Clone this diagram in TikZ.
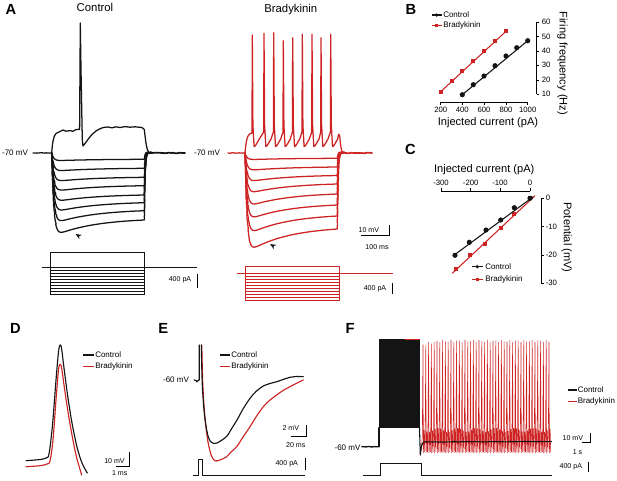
\documentclass[tikz,border=0pt]{standalone}
\usepackage{fontspec}
\setmainfont{Liberation Sans}
\usetikzlibrary{decorations.pathmorphing}
\definecolor{bkred}{RGB}{205,35,35}
\definecolor{trblack}{RGB}{20,20,20}
\begin{document}
\begin{tikzpicture}[x=0.75pt,y=-0.75pt,
 panel/.style={font=\bfseries\fontsize{11}{12}\selectfont,inner sep=0},
 ttl/.style={font=\fontsize{8.5}{10}\selectfont,inner sep=0},
 axl/.style={font=\fontsize{8.3}{10}\selectfont,inner sep=0},
 lbl/.style={font=\fontsize{6}{7}\selectfont,inner sep=0},
 tkl/.style={font=\fontsize{5.8}{7}\selectfont,inner sep=0},
 sbl/.style={font=\fontsize{5.3}{6}\selectfont,inner sep=0},
 ctr/.style={trblack,line width=0.95pt,line join=round,line cap=round},
 brd/.style={bkred,line width=0.95pt,line join=round,line cap=round},
 noisy/.style={decorate,decoration={random steps,segment length=1.4pt,amplitude=0.22pt}},
 cur/.style={line width=0.6pt},
 sbar/.style={line width=0.75pt},
 axs/.style={line width=0.7pt},
 leg/.style={line width=0.8pt},
]
\useasboundingbox (0,0) rectangle (617,480);
\pgfmathsetseed{7}
% ---------- panel letters and titles
\node[panel] (pA) at (10.8,9) {A};
\node[panel] (pB) at (410.8,9.2) {B};
\node[panel] (pC) at (410.5,149.5) {C};
\node[panel] (pD) at (15.3,328.3) {D};
\node[panel] (pE) at (163.3,328.7) {E};
\node[panel] (pF) at (350,328.3) {F};
\node[ttl] (tctl) at (95,7) {Control};
\node[ttl] (tbrd) at (290.8,9.2) {Bradykinin};

% ---------- Panel A, control
\node[lbl] (ctlmv) at (15,153) {-70 mV};
\draw[ctr,noisy] (33,153) -- (51.7,153);
\draw[ctr,line width=1.3pt,noisy] (147,153) -- (185,153);
\foreach \f/\p in {159.3/160.5,168.3/170.5,177.3/180.5,185.7/190,195/200,202.7/210,210.7/221,220/233}{
  \pgfmathsetmacro\A{(\p-153)*1.05}
  \pgfmathsetmacro\B{(\A-(\f-153))/0.901}
  \pgfmathsetmacro\E{153+\A-\B*(1-exp(-92.6/40))}
  \draw[ctr,noisy] plot[domain=0:92.6,samples=90] ({51.7+\x},{153+\A*(1-exp(-min(\x,20)/2))-\B*(1-exp(-\x/40))})
     -- plot[domain=0:7,samples=25] ({144.3+\x},{153+(\E-153)*exp(-\x/0.9)-2.5*(1-exp(-\x/0.9))*exp(-\x/3)});
}
\draw[ctr] (51.7,153) .. controls (52.5,142) and (53.5,136) .. (56,133.5) -- (60,131.5) -- (63,130) -- (66,131.2) -- (70,130.6) -- (73,131.3) -- (76,129.5) -- (79.6,129.3)
  -- (80.3,23) -- (81,70) -- (82.3,140) -- (83,146) .. controls (86,143) and (90,135) .. (96,131) .. controls (100,128.5) and (103,127) .. (108,127)
  -- (112,127.8) -- (116,126.8) -- (120,127.5) -- (125,126.6) -- (130,127.2) -- (135,126.8) -- (142,127.5) -- (144.3,129.5) .. controls (145.5,140) and (146.5,150) .. (149,153);
\fill[trblack] (75.5,234) -- (79.35,239.2) -- (79.1,236.2) -- (81.9,234.9) -- cycle;
% current steps control
\draw[trblack,cur] (41.7,267.3) -- (50,267.3) (144.3,267.3) -- (196.7,267.3);
\foreach \lv in {252.7,270,273.04,276.08,279.12,282.16,285.2,288.24,291.28,294.3}
  \draw[trblack,cur] (50,267.3) rectangle (144.3,\lv);
\node[sbl] (ctlpa) at (180,280) {400 pA};
\draw[sbar] (197.3,274.3) -- (197.3,287.7);

% ---------- Panel A, bradykinin
\node[lbl] (brdmv) at (207,153) {-70 mV};
\draw[brd,noisy] (228,153) -- (245,153);
\draw[brd,line width=1.3pt,noisy] (340,153) -- (372,153);
\foreach \f/\p in {158.3/159.5,167/170,175.5/181,184/192.5,194/205,205/218,216/232,229/249}{
  \pgfmathsetmacro\A{(\p-153)*1.05}
  \pgfmathsetmacro\B{(\A-(\f-153))/0.901}
  \pgfmathsetmacro\E{153+\A-\B*(1-exp(-92.3/40))}
  \draw[brd,noisy] plot[domain=0:92.3,samples=90] ({245+\x},{153+\A*(1-exp(-min(\x,20)/2))-\B*(1-exp(-\x/40))})
     -- plot[domain=0:7,samples=25] ({337.3+\x},{153+(\E-153)*exp(-\x/0.9)-2.5*(1-exp(-\x/0.9))*exp(-\x/3)});
}
\draw[brd] (245,152.7) .. controls (246,142) and (247,136) .. (249.5,134) -- (251.6,133.5)
  \foreach \sx/\sp in {252.3/35,264/33.3,273.7/32.7,283.3/40.7,292.7/37.7,302.3/34.3,312/34.3,321/37.7,330.7/34.3}{
    -- ({\sx-0.3},132) -- (\sx,\sp) -- ({\sx+0.6},125) -- ({\sx+1.8},146.5) .. controls ({\sx+3},147) and ({\sx+5},142) .. ({\sx+7},139)
  }
  .. controls (338.5,133) and (339.2,133) .. (339.8,137) .. controls (340.5,146) and (341.5,152) .. (343,153);
\fill[trblack] (270,244) -- (273.85,249.2) -- (273.6,246.2) -- (276.4,244.9) -- cycle;
% scale bars
\node[sbl] (brdmvs) at (368.8,230) {10 mV};
\draw[sbar] (360.7,235.5) -- (389.3,235.5) -- (389.3,225);
\node[sbl] (brdms) at (377,246.7) {100 ms};
% current steps bradykinin
\draw[bkred,cur] (236.7,273.3) -- (245,273.3) (339.3,273.3) -- (393.3,273.3);
\foreach \lv in {266,276.7,279.6,282.5,285.4,288.3,291.2,294.1,297,300}
  \draw[bkred,cur] (245,273.3) rectangle (339.3,\lv);
\node[sbl] (brdpa) at (375,288.3) {400 pA};
\draw[sbar] (392.7,283.3) -- (392.7,294.3);

% ---------- Panel B
\draw[axs] (440.7,102) -- (527.7,102);
\foreach \t/\xx in {200/440.7,400/462.3,600/484,800/506,1000/527.7}{
  \draw[axs] (\xx,102) -- (\xx,104.5);
  \node[tkl] (bx\t) at (\xx,110) {\t};
}
\draw[axs] (536.7,22.3) -- (536.7,94.3);
\foreach \t/\yy in {60/22.3,50/36.7,40/51,30/65.3,20/80,10/94.3}{
  \draw[axs] (536.7,\yy) -- (539.3,\yy);
  \node[tkl,anchor=west] (by\t) at (541.5,\yy) {\t};
}
\node[axl] (bxl) at (488,122.7) {Injected current (pA)};
\node[axl,rotate=-90] (byl) at (562.5,63.3) {Firing frequency (Hz)};
\draw[bkred,leg] (440.7,91.7) -- (506,31.3);
\foreach \xx/\yy in {440.7/91.7,451.7/81,462.3/71.3,473.3/61.3,484/50.7,495/41.3,506/31.3}
  \fill[bkred] (\xx-2.1,\yy-2.1) rectangle (\xx+2.1,\yy+2.1);
\draw[trblack,leg] (462.3,94.7) -- (527.7,40.7);
\foreach \xx/\yy in {462.3/94.7,473.3/84.7,484/76,495/65.7,506/56,516.7/47.7,527.7/40.7}
  \fill[trblack] (\xx,\yy) circle (2.6);
\draw[trblack,leg] (431.7,15) -- (441.7,15);
\fill[trblack] (436.7,15) circle (1.8);
\node[lbl,anchor=west] (blc) at (443,15) {Control};
\draw[bkred,leg] (431.7,25.3) -- (441.7,25.3);
\fill[bkred] (435,23.6) rectangle (438.4,27);
\node[lbl,anchor=west] (blb) at (443,25.3) {Bradykinin};

% ---------- Panel C
\node[axl] (cxl) at (484.2,169.3) {Injected current (pA)};
\draw[axs] (441,191) -- (530,191);
\foreach \xx in {441,470.7,500,530}{
  \draw[axs] (\xx,191) -- (\xx,187.8);
}
\node[tkl] (cx1) at (441,182.7) {-300};
\node[tkl] (cx2) at (470.7,182.7) {-200};
\node[tkl] (cx3) at (500,182.7) {-100};
\node[tkl] (cx4) at (530,182.7) {0};
\draw[axs] (541,198.3) -- (541,283.3);
\foreach \yy in {198.3,226.7,255,283.3}
  \draw[axs] (541,\yy) -- (543.7,\yy);
\node[tkl,anchor=west] (cy1) at (545.5,198.3) {0};
\node[tkl,anchor=west] (cy2) at (545.5,226.7) {-10};
\node[tkl,anchor=west] (cy3) at (545.5,255) {-20};
\node[tkl,anchor=west] (cy4) at (545.5,283.3) {-30};
\node[axl,rotate=-90] (cyl) at (566.7,237.5) {Potential (mV)};
\draw[bkred,leg] (535,195.7) -- (452.3,273.3);
\foreach \xx/\yy in {530/198.3,514.3/214.3,500.7/227.7,485/244.3,470/255,456/269.3}
  \fill[bkred] (\xx-2.1,\yy-2.1) rectangle (\xx+2.1,\yy+2.1);
\draw[trblack,leg] (533.3,196.7) -- (453.3,255.7);
\foreach \xx/\yy in {530/198.3,514.3/207.7,500.7/220,486/230,469.3/242.3,455/255.3}
  \fill[trblack] (\xx,\yy) circle (2.6);
\draw[trblack,leg] (471.7,266.7) -- (483.3,266.7);
\fill[trblack] (477.3,266.7) circle (1.8);
\node[lbl,anchor=west] (clc) at (485,266.7) {Control};
\draw[bkred,leg] (471.7,279.3) -- (483.3,279.3);
\fill[bkred] (475.6,277.6) rectangle (479,281);
\node[lbl,anchor=west] (clb) at (485,279.3) {Bradykinin};

% ---------- Panel D
\draw[brd,line width=0.85pt] plot[smooth,tension=0.5] coordinates {(26,466.7) (40,465.7) (47,464) (50,461) (53,440) (56,400) (58.5,370) (60,364.3) (61.5,367) (64,385) (68,412) (72,435) (76,455) (79,466) (81.7,475)};
\draw[ctr,line width=0.85pt] plot[smooth,tension=0.5] coordinates {(26,460.7) (40,459.5) (46,458) (49,454) (52.5,425) (56,380) (58.5,352) (60,345) (61.5,348) (64,368) (68,398) (72,423) (77,447) (82,463) (87.3,473)};
\draw[trblack,leg] (83.3,355) -- (94,355);
\node[lbl,anchor=west] (dlc) at (95,355) {Control};
\draw[bkred,leg] (83.3,366.7) -- (94,366.7);
\node[lbl,anchor=west] (dlb) at (95,366.7) {Bradykinin};
\node[sbl] (dmv) at (114.5,461.5) {10 mV};
\draw[sbar] (116,466) -- (129,466) -- (129,451.7);
\node[sbl] (dms) at (119.7,473.3) {1 ms};

% ---------- Panel E
\node[lbl] (emv) at (176,379.3) {-60 mV};
\draw[brd,line width=0.85pt] plot[smooth,tension=0.5] coordinates {(201.8,345) (202.8,385) (205,418) (208,442) (211.5,456) (215,460.7) (220,460) (226.7,456.7) (231,452) (236.7,446.7) (243,437) (250,426.7) (256,417) (263.3,406.7) (270,400) (276.7,395) (283,390.5) (290,386.7) (297,383) (303.3,380)};
\draw[ctr,line width=0.85pt] (194,380) -- (196,380.5) -- (197,381.8) -- (198.3,380.3) -- (199.3,380) -- (199.3,345);
\draw[ctr,line width=0.85pt] plot[smooth,tension=0.5] coordinates {(201.3,345) (202.3,385) (204.5,415) (207.5,434) (210.5,441.5) (213.3,443.3) (217,443) (222,440) (227,436) (232,428) (237,420) (243,409) (250,398.3) (256,391.5) (263.3,386) (270,383.5) (276.7,381.7) (283,379.5) (290,377.3) (297,376.5) (303.3,376.7)};
\draw[trblack,leg] (220,355) -- (230,355);
\node[lbl,anchor=west] (elc) at (231,355) {Control};
\draw[bkred,leg] (220,366.7) -- (230,366.7);
\node[lbl,anchor=west] (elb) at (231,366.7) {Bradykinin};
\node[sbl] (emvs) at (290.8,428.3) {2 mV};
\draw[sbar] (290.7,436) -- (306,436) -- (306,425);
\node[sbl] (ems) at (295.8,445) {20 ms};
\node[sbl] (epa) at (286.7,464) {400 pA};
\draw[sbar] (305,458.3) -- (305,470);
\draw[trblack,cur] (192.7,475) -- (198.3,475) -- (198.3,459.3) -- (202.3,459.3) -- (202.3,475) -- (305,475);

% ---------- Panel F
\node[lbl] (fmv) at (347.5,447.7) {-60 mV};
\draw[bkred,line width=0.4pt] (421,452)
  \foreach \i in {0,...,45}{
    -- ({423+\i*2.8-0.7},{437+2*sin(\i*71)}) -- ({423+\i*2.8},{341+3.5*max(0,1-\i/6)+1.2*sin(\i*137)}) -- ({423+\i*2.8+0.35},{453}) -- ({423+\i*2.8+1.1},{430+2*sin(\i*53)}) -- ({423+\i*2.8+1.7},{452})
  };
\draw[ctr,line width=1pt,noisy] (361.7,446.7) -- (379,446.7);
\draw[ctr,line width=0.8pt] (379,446.7) -- (379,427.7);
\fill[trblack] (379,339.3) rectangle (419.5,427.7);
\draw[bkred,line width=0.9pt] (405,339.8) -- (420,339.8);
\draw[ctr,line width=0.8pt] (419.5,427.7) -- (420.3,455) .. controls (421.2,446) and (422,443) .. (424,442);
\draw[ctr,line width=0.8pt,noisy] (424,442) -- (551.7,441.5);
\draw[trblack,leg] (568.3,390) -- (576.7,390);
\node[lbl,anchor=west] (flc) at (577.5,390) {Control};
\draw[bkred,leg] (568.3,401.7) -- (576.7,401.7);
\node[lbl,anchor=west] (flb) at (577.5,401.7) {Bradykinin};
\node[sbl] (fmvs) at (572.8,437.7) {10 mV};
\draw[sbar] (581.7,442.3) -- (590,442.3) -- (590,433.3);
\node[sbl] (fs) at (577.5,451.7) {1 s};
\node[sbl] (fpa) at (570.8,466.7) {400 pA};
\draw[sbar] (588.3,461.7) -- (588.3,471.7);
\draw[trblack,cur] (363.3,475.7) -- (380,475.7) -- (380,463.3) -- (421,463.3) -- (421,475.7) -- (551.7,475.7);
\end{tikzpicture}
\end{document}
